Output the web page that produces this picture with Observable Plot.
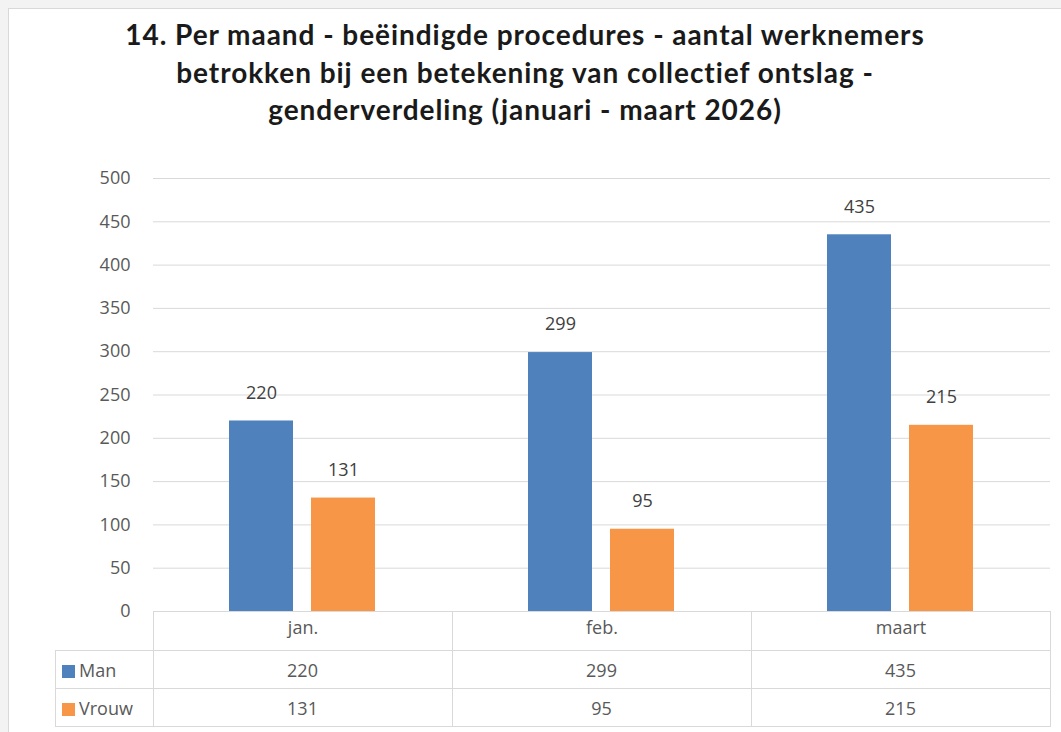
<!DOCTYPE html>
<html>
<head>
<meta charset="utf-8">
<script src="https://cdn.jsdelivr.net/npm/d3@7"></script>
<script src="https://cdn.jsdelivr.net/npm/@observablehq/plot@0.6"></script>
<style>
  html, body { margin: 0; padding: 0; background: #fff; overflow: hidden; width: 1061px; height: 732px; }
  #page { position: relative; width: 1061px; height: 732px; overflow: hidden; background: #fff; }
  #stripTop { position: absolute; left: 0; top: 0; width: 1061px; height: 8px; background: #f3f3f3; }
  #stripLeft { position: absolute; left: 0; top: 0; width: 8px; height: 732px; background: #f3f3f3; }
  #frame { position: absolute; left: 8px; top: 8px; width: 1053px; height: 724px; background: #fff;
           border-left: 1px solid #d9d9d9; border-top: 1px solid #d9d9d9; box-sizing: border-box; }
  #title { position: absolute; left: 0; top: 16px; width: 1050px; text-align: center;
           font-family: Lato, "Open Sans", sans-serif; font-weight: bold; font-size: 28px;
           letter-spacing: 0.95px; line-height: 37.5px; color: #1a1a1a; }
  #chart { position: absolute; left: 0; top: 150px; }
  #table { position: absolute; left: 55px; top: 611px; border-collapse: collapse;
           font-family: "Open Sans", "Noto Sans", sans-serif; font-size: 18px; color: #595959; }
  #table td { border: 1px solid #d9d9d9; padding: 0; text-align: center; height: 37px; }
  #table td.blank { border: none; border-right: 1px solid #d9d9d9; }
  #table td.legend { text-align: left; padding-left: 6px; }
  .sw { display: inline-block; width: 13px; height: 13px; margin-right: 4px; vertical-align: -1px; }
</style>
</head>
<body>
<div id="page">
  <div id="stripTop"></div>
  <div id="stripLeft"></div>
  <div id="frame"></div>
  <div id="title">14. Per maand - beëindigde procedures - aantal werknemers<br>betrokken bij een betekening van collectief ontslag -<br>genderverdeling (januari - maart 2026)</div>
  <div id="chart"></div>
  <table id="table"></table>
</div>
<script>
const months = ["jan.", "feb.", "maart"];
const series = ["Man", "Vrouw"];
const manValues = [220, 299, 435];
const vrouwValues = [131, 95, 215];
const colors = ["#4F81BD", "#F79646"];
const yTicks = [0, 50, 100, 150, 200, 250, 300, 350, 400, 450, 500];

const data = [];
months.forEach((m, i) => {
  data.push({month: m, gender: series[0], value: manValues[i]});
  data.push({month: m, gender: series[1], value: vrouwValues[i]});
});

const chart = Plot.plot({
  width: 1061,
  height: 500,
  marginLeft: 153,
  marginRight: 11,
  marginTop: 28,
  marginBottom: 39,
  style: {background: "transparent", fontFamily: "'Open Sans', 'Noto Sans', sans-serif", fontSize: "18px", color: "#595959"},
  fx: {domain: months, padding: 0, label: null, axis: "bottom", tickSize: 0, tickPadding: 10},
  x: {domain: series, axis: null, paddingInner: 0.217, paddingOuter: 0.91},
  y: {domain: [0, 500], ticks: yTicks, label: null, tickSize: 0, tickPadding: 23},
  color: {domain: series, range: colors},
  marks: [
    Plot.gridY(yTicks, {stroke: "#d9d9d9", strokeOpacity: 1, strokeWidth: 1}),
    Plot.axisY({ticks: yTicks, tickSize: 0, tickPadding: 23, label: null, fill: "#595959"}),
    Plot.ruleY([0], {stroke: "#d9d9d9", strokeWidth: 1}),
    Plot.barY(data, {fx: "month", x: "gender", y: "value", fill: "gender"}),
    Plot.text(data, {fx: "month", x: "gender", y: "value", text: d => String(d.value),
      dy: -28, fill: "#404040", fontSize: 18})
  ]
});
document.getElementById("chart").appendChild(chart);

// data table beneath the axis (category row + one row per series)
const table = document.getElementById("table");
const colW = 298;
let html = '<tr><td class="blank" style="width:97px"></td>' +
  months.map(() => `<td style="width:${colW}px;height:38px"></td>`).join("") + '</tr>';
const rows = [manValues, vrouwValues];
series.forEach((s, k) => {
  html += `<tr><td class="legend"><span class="sw" style="background:${colors[k]}"></span>${s}</td>` +
    rows[k].map(v => `<td>${v}</td>`).join("") + '</tr>';
});
table.innerHTML = html;
</script>
</body>
</html>
